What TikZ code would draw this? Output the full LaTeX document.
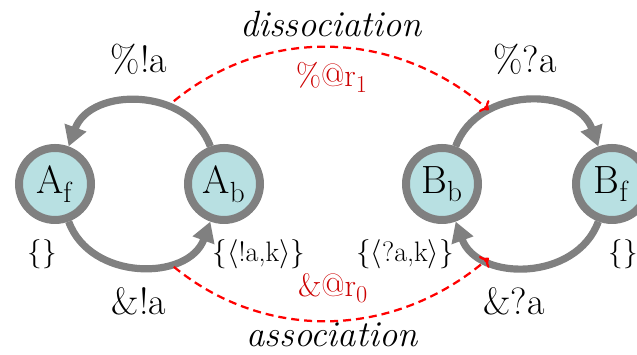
\documentclass[tikz,border=0pt]{standalone}
\usepackage{tikz}
\usetikzlibrary{positioning,arrows.meta}
\definecolor{softcyan}{RGB}{184,224,226}
\definecolor{edgegrey}{RGB}{128,128,128}
\definecolor{ratered}{RGB}{204,0,0}
\tikzset{
    species/.style={
        circle,
        draw=edgegrey,
        line width=0.2cm,
        fill=softcyan,
        minimum size=1.8cm,
        inner sep=0pt,
        font=\fontsize{28}{33}\selectfont
    },
    binding/.style={
        draw=edgegrey,
        line width=0.18cm,
        looseness=1.15,
        -{Triangle[length=0.5cm,width=0.55cm]}
    },
    reaction/.style={
        draw=red,
        line width=1.6pt,
        dash pattern=on 0.2cm off 0.125cm,
        ->
    },
    action/.style={
        anchor=base,
        inner sep=0pt,
        font=\fontsize{27}{32}\selectfont
    },
    event/.style={
        anchor=base,
        inner sep=0pt,
        font=\fontsize{26}{31}\selectfont\itshape
    },
    rate/.style={
        anchor=base,
        inner sep=0pt,
        text=ratered,
        font=\fontsize{23}{27}\selectfont
    },
    setlabel/.style={
        anchor=base,
        inner sep=0pt,
        font=\fontsize{20}{24}\selectfont
    }
}

\begin{document}
\begin{tikzpicture}

\clip (0,0) rectangle (15.925,8.875);

% Species
\node[species] (Af) at (1.375,4.275) {A$_\mathrm{f}$};
\node[species] (Ab) at (5.6,4.275) {A$_\mathrm{b}$};
\node[species] (Bb) at (11.05,4.275) {B$_\mathrm{b}$};
\node[species] (Bf) at (15.3,4.275) {B$_\mathrm{f}$};

% Local transitions
\draw[binding] (Ab) to[bend right=70] coordinate[pos=0.34] (dstart) (Af);
\draw[binding] (Af) to[bend right=70] coordinate[pos=0.66] (astart) (Ab);
\draw[binding] (Bb) to[bend left=70] coordinate[pos=0.28] (dend) (Bf);
\draw[binding] (Bf) to[bend left=70] coordinate[pos=0.72] (aend) (Bb);

% Synchronised reactions
\draw[reaction, shorten <=0.2cm] (dstart) to[bend left=40] (dend);
\draw[reaction, shorten <=0.2cm] (astart) to[bend right=40] (aend);

% Action labels
\node[action] (outA) at (3.475,7.05) {\%!a};
\node[action] (inA) at (3.475,1.0) {\&!a};
\node[action] (outB) at (13.125,7.05) {\%?a};
\node[action] (inB) at (12.85,1.0) {\&?a};

% Reaction labels
\node[event] (diss) at (8.275,7.95) {dissociation};
\node[event] (assoc) at (8.3,0.2) {association};
\node[rate] (rdiss) at (8.3,6.7) {\%@r$_1$};
\node[rate] (rassoc) at (8.325,1.45) {\&@r$_0$};

% Link sets
\node[setlabel] (setAf) at (1.05,2.325) {$\{\}$};
\node[setlabel] (setAb) at (6.475,2.325) {$\{\langle$!a,k$\rangle\}$};
\node[setlabel] (setBb) at (10.125,2.325) {$\{\langle$?a,k$\rangle\}$};
\node[setlabel] (setBf) at (15.575,2.325) {$\{\}$};

\end{tikzpicture}
\end{document}
